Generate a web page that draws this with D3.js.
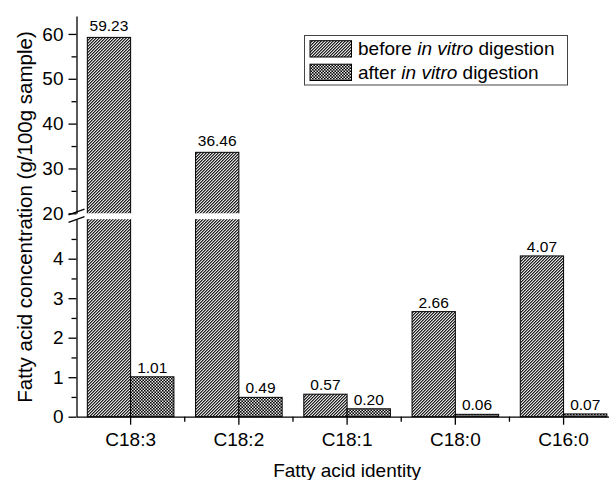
<!DOCTYPE html>
<html>
<head>
<meta charset="utf-8">
<script src="https://cdn.jsdelivr.net/npm/d3@7"></script>
<style>
  body { margin: 0; background: #fff; }
  svg { display: block; font-family: "Liberation Sans", Arial, sans-serif; }
</style>
</head>
<body>
<div id="chart"></div>
<script>
// data
const categories = ["C18:3", "C18:2", "C18:1", "C18:0", "C16:0"];
// the C18:2 bar is drawn shorter (~33.6) than its printed label in the figure
const beforeValues = [59.23, 33.6, 0.57, 2.66, 4.07];
const beforeLabels = ["59.23", "36.46", "0.57", "2.66", "4.07"];
const afterValues = [1.01, 0.49, 0.20, 0.06, 0.07];
const afterLabels = ["1.01", "0.49", "0.20", "0.06", "0.07"];
const lowTicks = [0, 1, 2, 3, 4];
const lowMinor = [0.5, 1.5, 2.5, 3.5, 4.5];
const highTicks = [20, 30, 40, 50, 60];
const highMinor = [25, 35, 45, 55];

const width = 609, height = 480;
const left = 76.5, right = 617.7;

// broken y axis: two linear pieces
const yLow = d3.scaleLinear().domain([0, 5]).range([416.7, 219.2]);
const yHigh = d3.scaleLinear().domain([20, 64]).range([213.3, 16]);
const y = v => v <= 5 ? yLow(v) : yHigh(v);

const x = d3.scaleBand().domain(categories).range([left, right])
  .paddingInner(0.2).paddingOuter(0.1);
const xSub = d3.scaleBand().domain(["before", "after"]).range([0, x.bandwidth()]);

const svg = d3.select("#chart").append("svg")
  .attr("width", width).attr("height", height);

// hatch patterns
const defs = svg.append("defs");
const p1 = defs.append("pattern").attr("id", "hatchBefore")
  .attr("patternUnits", "userSpaceOnUse")
  .attr("width", 3).attr("height", 3);
p1.append("rect").attr("width", 3).attr("height", 3).attr("fill", "#fff");
p1.append("path").attr("d", "M0,1.5L1.5,0L3,0L0,3Z M1.5,3L3,1.5L3,3Z").attr("fill", "#000");

// cross hatch: black with small white holes
const p2 = defs.append("pattern").attr("id", "hatchAfter")
  .attr("patternUnits", "userSpaceOnUse")
  .attr("width", 3).attr("height", 3);
p2.append("rect").attr("width", 3).attr("height", 3).attr("fill", "#000");
p2.append("path").attr("d", "M0.1,1.6h1.3v1.3h-1.3Z M1.6,0.1h1.3v1.3h-1.3Z").attr("fill", "#fff");

const series = [
  {key: "before", values: beforeValues, labels: beforeLabels, fill: "url(#hatchBefore)"},
  {key: "after", values: afterValues, labels: afterLabels, fill: "url(#hatchAfter)"}
];

// bars
series.forEach(s => {
  const g = svg.append("g");
  g.selectAll("rect")
    .data(categories)
    .join("rect")
    .attr("x", (c) => x(c) + xSub(s.key))
    .attr("y", (c, i) => y(s.values[i]))
    .attr("width", xSub.bandwidth())
    .attr("height", (c, i) => yLow(0) - y(s.values[i]))
    .attr("fill", s.fill)
    .attr("stroke", "#000")
    .attr("stroke-width", 1);
});

// white gap of the axis break
svg.append("rect")
  .attr("x", left + 1.5).attr("y", yHigh(20))
  .attr("width", right - left).attr("height", yLow(5) - yHigh(20))
  .attr("fill", "#fff");

// value labels
series.forEach(s => {
  svg.append("g").selectAll("text")
    .data(categories)
    .join("text")
    .attr("x", c => x(c) + xSub(s.key) + xSub.bandwidth() / 2)
    .attr("y", (c, i) => y(s.values[i]) - (s.values[i] > 5 ? 6.5 : 4))
    .attr("text-anchor", "middle")
    .attr("font-size", 15.5)
    .text((c, i) => s.labels[i]);
});

function styleAxis(g) {
  g.selectAll("path, line").attr("stroke", "#000").attr("stroke-width", 1.3);
  g.selectAll("text").attr("font-family", null).attr("font-size", 19).attr("fill", "#000");
  g.attr("font-family", null).attr("font-size", null);
}

// y axis, upper piece
svg.append("g").attr("transform", `translate(${left},0)`)
  .call(d3.axisLeft(yHigh).tickValues(highTicks).tickSize(8).tickSizeOuter(0)
    .tickPadding(5).tickFormat(d3.format("d")))
  .call(styleAxis);
svg.append("g").attr("transform", `translate(${left},0)`)
  .call(d3.axisLeft(yHigh).tickValues(highMinor).tickSize(5).tickFormat(""))
  .call(g => g.select(".domain").remove())
  .call(styleAxis);

// y axis, lower piece
svg.append("g").attr("transform", `translate(${left},0)`)
  .call(d3.axisLeft(yLow).tickValues(lowTicks).tickSize(8).tickSizeOuter(0)
    .tickPadding(5).tickFormat(d3.format("d")))
  .call(styleAxis);
svg.append("g").attr("transform", `translate(${left},0)`)
  .call(d3.axisLeft(yLow).tickValues(lowMinor).tickSize(5).tickFormat(""))
  .call(g => g.select(".domain").remove())
  .call(styleAxis);

// break marks
[212, 219.5].forEach(cy => {
  svg.append("line")
    .attr("x1", left - 8).attr("y1", cy + 2.8)
    .attr("x2", left + 8).attr("y2", cy - 2.8)
    .attr("stroke", "#000").attr("stroke-width", 1.3);
});

// x axis
svg.append("g").attr("transform", `translate(0,${yLow(0)})`)
  .call(d3.axisBottom(x).tickSize(8).tickSizeOuter(0).tickPadding(8))
  .call(styleAxis);
const minorX = d3.range(1, categories.length).map(i => left + i * x.step());
svg.append("g").attr("transform", `translate(0,${yLow(0)})`)
  .selectAll("line").data(minorX).join("line")
  .attr("x1", d => d).attr("x2", d => d).attr("y1", 0).attr("y2", 5)
  .attr("stroke", "#000").attr("stroke-width", 1.3);

// axis titles
svg.append("text")
  .attr("x", (left + right) / 2).attr("y", 476.5)
  .attr("text-anchor", "middle").attr("font-size", 19)
  .text("Fatty acid identity");
svg.append("text")
  .attr("transform", `translate(32,217) rotate(-90)`)
  .attr("text-anchor", "middle").attr("font-size", 20.5)
  .text("Fatty acid concentration (g/100g sample)");

// legend
const legend = svg.append("g");
legend.append("rect")
  .attr("x", 304.5).attr("y", 35.5).attr("width", 263).attr("height", 49.5)
  .attr("fill", "#fff").attr("stroke", "#444").attr("stroke-width", 1);
const legendRows = [
  {fill: "url(#hatchBefore)", pre: "before ", y: 40.7},
  {fill: "url(#hatchAfter)", pre: "after ", y: 64.2}
];
legendRows.forEach(r => {
  legend.append("rect")
    .attr("x", 310).attr("y", r.y).attr("width", 41.5).attr("height", 16.3)
    .attr("fill", r.fill).attr("stroke", "#000").attr("stroke-width", 1);
  const t = legend.append("text")
    .attr("x", 358).attr("y", r.y + 14.5).attr("font-size", 19);
  t.append("tspan").text(r.pre);
  t.append("tspan").attr("font-style", "italic").text("in vitro");
  t.append("tspan").text(" digestion");
});
</script>
</body>
</html>
